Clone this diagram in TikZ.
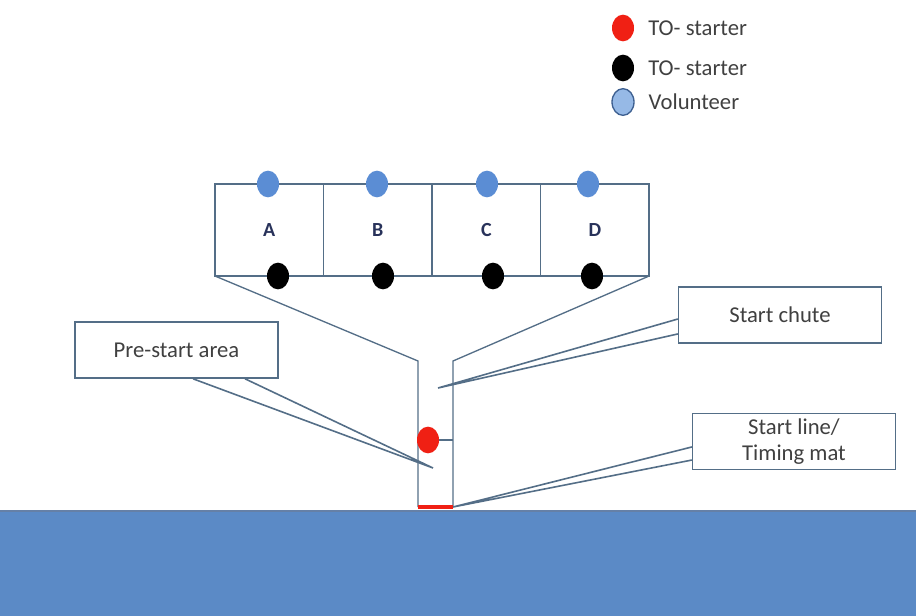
\documentclass[tikz,border=0pt]{standalone}
\usepackage{fontspec}
\setmainfont{Carlito}
\usetikzlibrary{positioning, shapes.geometric}
\definecolor{FrameBlue}{RGB}{84,110,135}
\definecolor{GroundBlue}{RGB}{91,138,198}
\definecolor{VolBlue}{RGB}{91,141,212}
\definecolor{VolEdge}{RGB}{62,96,145}
\definecolor{LegBlue}{RGB}{150,185,230}
\definecolor{StarterRed}{RGB}{240,32,20}
\definecolor{LabelGray}{RGB}{64,64,64}
\definecolor{LetterNavy}{RGB}{40,50,90}

\begin{document}
\begin{tikzpicture}[
  x=0.75pt, y=-0.75pt,
  font=\fontsize{17}{20}\selectfont,
  every node/.style={align=center},
  dot/.style={ellipse, fill=#1, minimum width=16.5pt, minimum height=20pt, inner sep=0pt},
  lane/.style={draw=FrameBlue, line width=1.1pt, minimum width=81.4pt, minimum height=69pt,
    inner sep=0pt, outer sep=0pt, text=LetterNavy, font=\fontsize{15}{18}\selectfont\bfseries},
  wall/.style={draw=FrameBlue, line width=1pt},
  callout/.style={draw=FrameBlue, line width=1.2pt, fill=white, text=LabelGray,
    minimum width=152pt, minimum height=42pt},
  pointer/.style={draw=FrameBlue, line width=1.2pt}
  ]
\useasboundingbox (0,0) rectangle (916,616);

% Ground
\fill[GroundBlue] (0,511) rectangle (916,616);
\draw[VolEdge!80, line width=0.8pt] (0,511) -- (916,511);

% Legend (top right)
\node[dot=StarterRed] (legred) at (623,28) {};
\node[right=7pt of legred, text=LabelGray] {TO- starter};
\node[dot=black] (legblack) at (623,68) {};
\node[right=7pt of legblack, text=LabelGray] {TO- starter};
\node[dot=LegBlue, draw=VolEdge, line width=1pt] (legvol) at (623,102) {};
\node[right=7pt of legvol, text=LabelGray] {Volunteer};

% Lanes
\node[lane] (A) at (269.25,230) {A};
\node[lane, right=0pt of A] (B) {B};
\node[lane, right=0pt of B] (C) {C};
\node[lane, right=0pt of C] (D) {D};

% Start chute
\coordinate (chuteL) at (418,361);
\coordinate (chuteR) at (453,361);
\coordinate (matL) at (418,507);
\coordinate (matR) at (453,507);
\draw[wall] (A.south west) -- (chuteL) -- (matL);
\draw[wall] (D.south east) -- (chuteR) -- (matR);
\draw[StarterRed, line width=2.4pt] (matL) -- (matR);

% Volunteers on top, TO-starters below
\node[dot=VolBlue] (volA) at (268,184) {};
\node[dot=VolBlue] (volB) at (377,184) {};
\node[dot=VolBlue] (volC) at (487,184) {};
\node[dot=VolBlue] (volD) at (588,184) {};
\node[dot=black] (toA) at (278,276) {};
\node[dot=black] (toB) at (383,276) {};
\node[dot=black] (toC) at (493,276) {};
\node[dot=black] (toD) at (592,276) {};

% Starter in the chute
\node[dot=StarterRed] (starter) at (428,440) {};
\draw[wall] (starter.east) -- (starter.east -| chuteR);

% Callouts
\node[callout] (pre) at (176.5,350) {Pre-start area};
\coordinate (preTip) at (433,468);
\draw[pointer] ([xshift=12.4pt]pre.south) -- (preTip) -- ([xshift=51.4pt]pre.south);

\node[callout] (chute) at (780,315) {Start chute};
\coordinate (chuteTip) at (438,388);
\draw[pointer] ([yshift=-3pt]chute.west) -- (chuteTip) -- ([yshift=-14.2pt]chute.west);

\node[callout] (mat) at (794,441.5) {Start line/\\Timing mat};
\draw[pointer] ([yshift=-4.1pt]mat.west) -- (matR) -- ([yshift=-13.9pt]mat.west);
\end{tikzpicture}
\end{document}
